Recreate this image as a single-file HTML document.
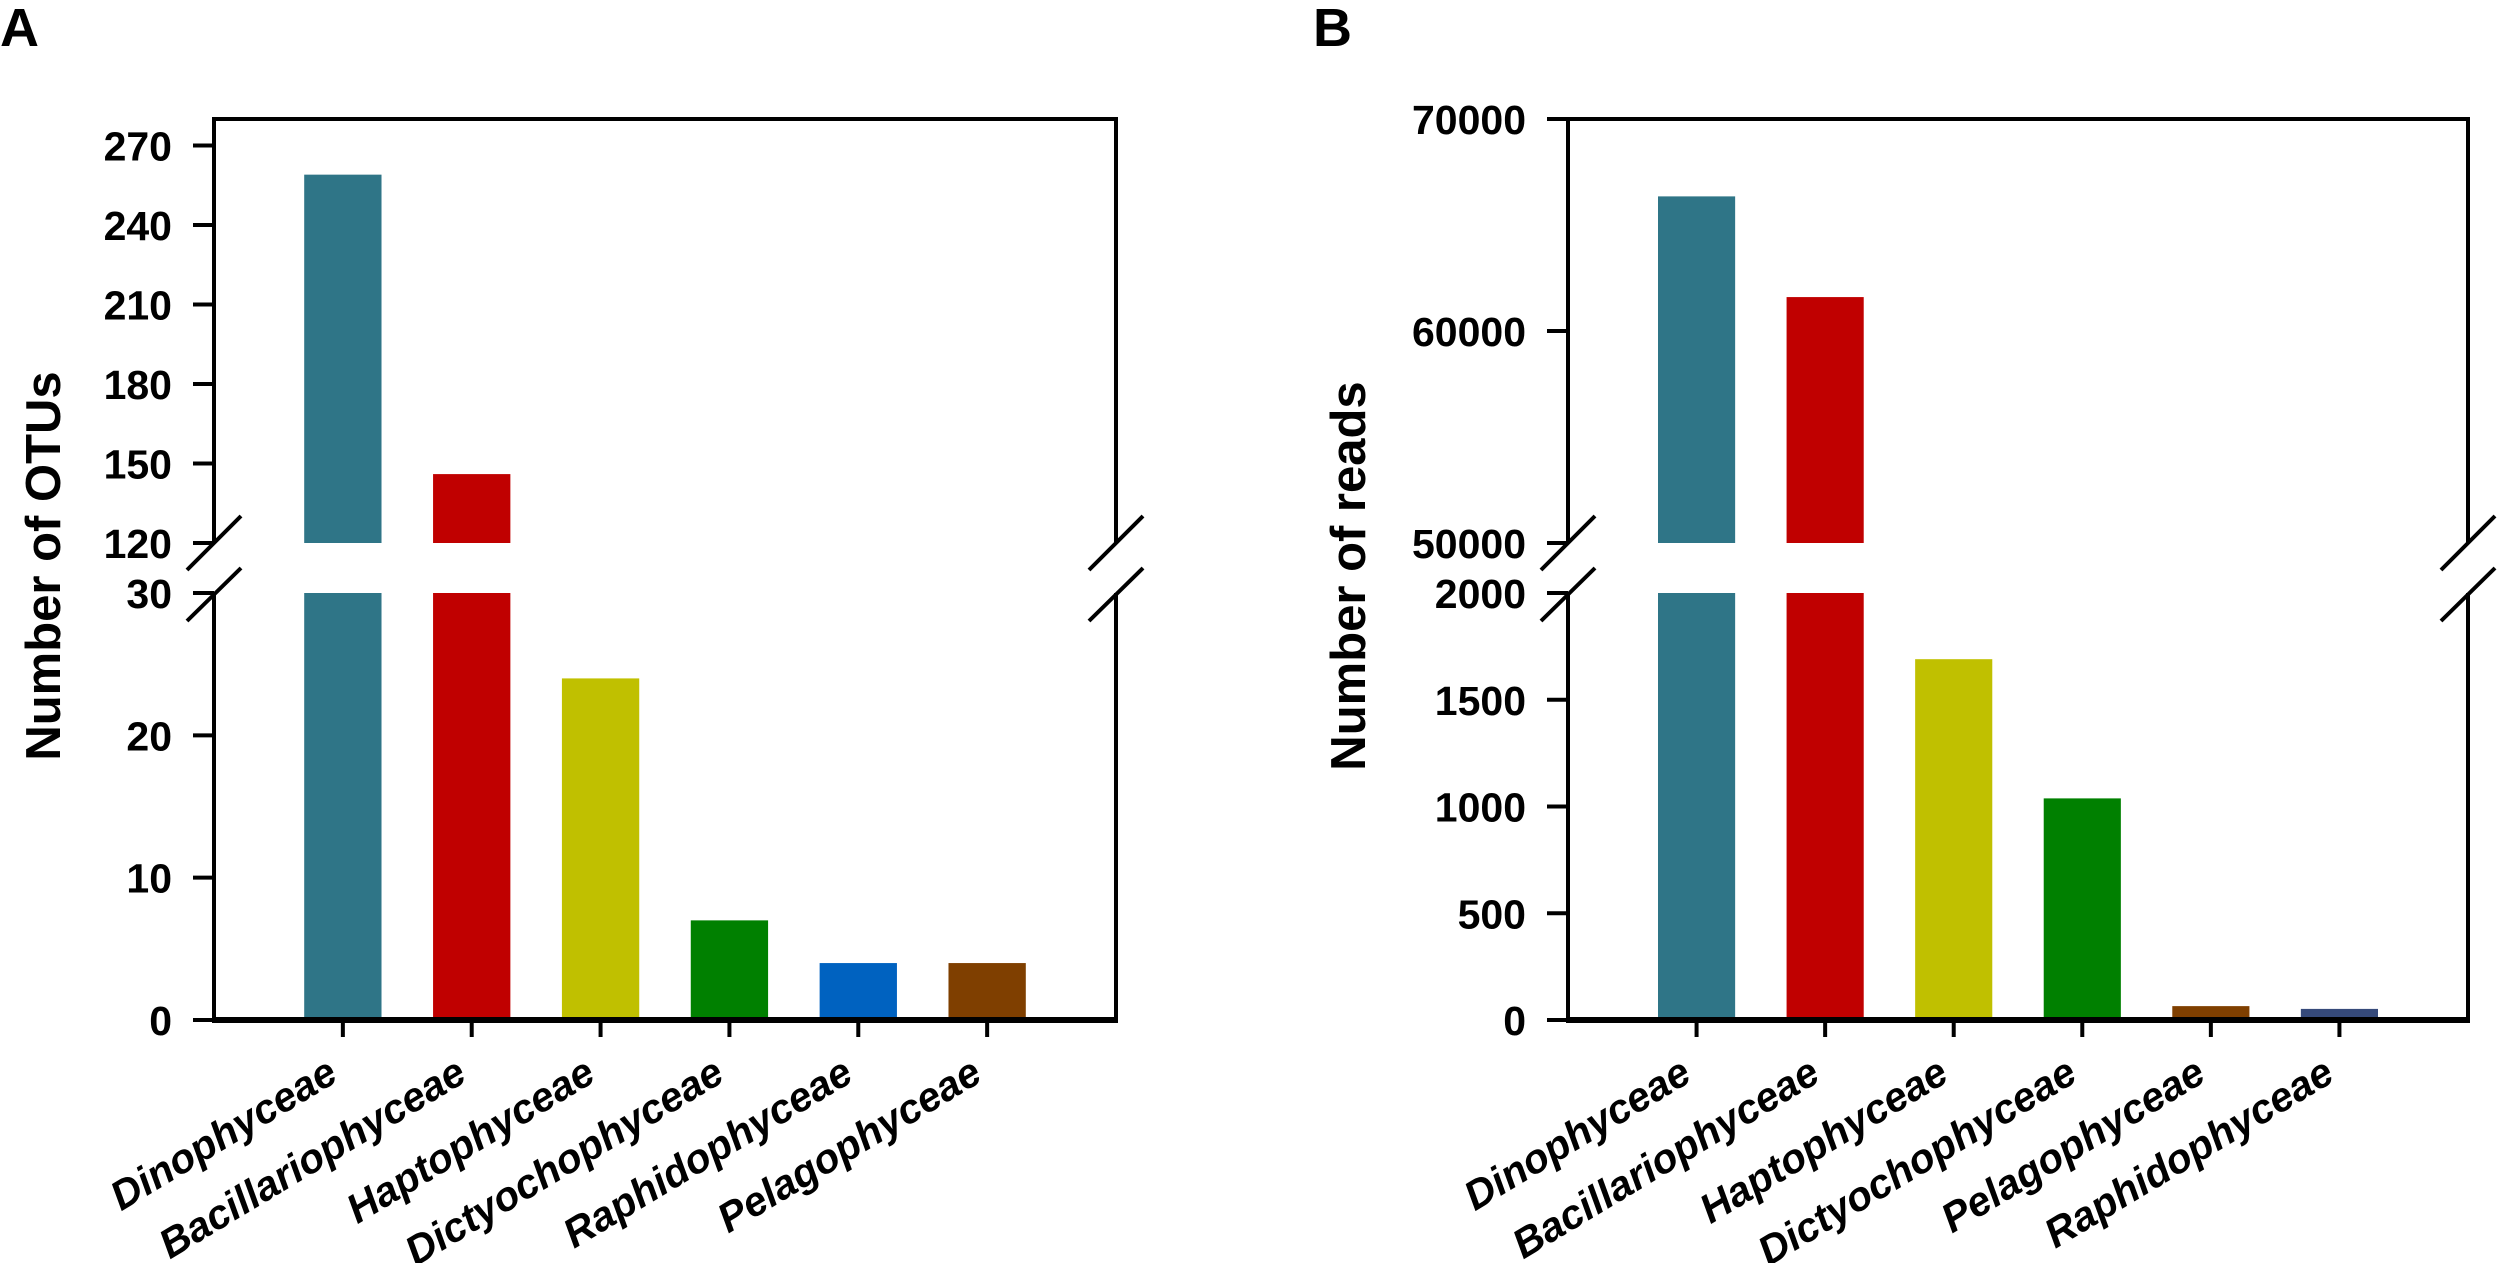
<!DOCTYPE html>
<html><head><meta charset="utf-8"><style>
html,body{margin:0;padding:0;background:#fff;}
svg{display:block;}
text{font-family:"Liberation Sans",Arial,sans-serif;font-weight:bold;fill:#000;}
</style></head><body>
<svg id="fig" width="2500" height="1263" viewBox="0 0 2500 1263" xmlns="http://www.w3.org/2000/svg">
<text x="0" y="46" font-size="54">A</text>
<text x="1313" y="46" font-size="54">B</text>
<text transform="translate(60,566) rotate(-90)" text-anchor="middle" font-size="49">Number of OTUs</text>
<text transform="translate(1365,576) rotate(-90)" text-anchor="middle" font-size="49">Number of reads</text>
<g id="pa"></g>
<g id="pb"></g>
</svg>
<script>
const catsA = ["Dinophyceae","Bacillariophyceae","Haptophyceae","Dictyochophyceae","Raphidophyceae","Pelagophyceae"];
const valsA = [259, 146, 24, 7, 4, 4];
const colorsA = ["#2f7587","#c00000","#c0c000","#008000","#0062c0","#7f3f00"];
const ticksALow = [0, 10, 20, 30];
const ticksAHigh = [120, 150, 180, 210, 240, 270];

const catsB = ["Dinophyceae","Bacillariophyceae","Haptophyceae","Dictyochophyceae","Pelagophyceae","Raphidophyceae"];
const valsB = [66350, 61600, 1690, 1038, 65, 52];
const colorsB = ["#2f7587","#c00000","#c0c000","#008000","#7f3f00","#364a7a"];
const ticksBLow = [0, 500, 1000, 1500, 2000];
const ticksBHigh = [50000, 60000, 70000];

const NS = "http://www.w3.org/2000/svg";
function mk(parent, tag, attrs) {
  const e = document.createElementNS(NS, tag);
  for (const k in attrs) e.setAttribute(k, attrs[k]);
  parent.appendChild(e);
  return e;
}

function drawPanel(g, cats, vals, colors, ticksLow, ticksHigh, cfg) {
  const L = cfg.left, R = cfg.right, top = 119, y0 = 1020;
  const lowTopPx = 593, highBotPx = 543;
  const yLow = v => y0 - (v - cfg.lowMin) / (cfg.lowMax - cfg.lowMin) * (y0 - lowTopPx);
  const yHigh = v => highBotPx - (v - cfg.highMin) / (cfg.highMax - cfg.highMin) * (highBotPx - top);
  const slot = (R - L) / (cats.length + 1);
  const bw = slot * 0.6;
  const xc = i => L + slot * (i + 1);

  cats.forEach((c, i) => {
    const v = vals[i];
    const x = xc(i) - bw / 2;
    const topLow = v > cfg.lowMax ? lowTopPx : yLow(v);
    let r = mk(g, "rect", {x: x, y: topLow, width: bw, height: y0 - topLow, fill: colors[i]});
    
    
    if (v > cfg.highMin) {
      const yt = yHigh(Math.min(v, cfg.highMax));
      let r2 = mk(g, "rect", {x: x, y: yt, width: bw, height: highBotPx - yt, fill: colors[i]});
      
      
    }
    let tk = mk(g, "line", {x1: xc(i), x2: xc(i), y1: y0, y2: 1037, stroke: "#000", "stroke-width": 4});
    
    
    let t = mk(g, "text", {transform: "translate(" + (xc(i) - 3) + ",1080) rotate(-31)", "text-anchor": "end", "font-size": 41, "font-style": "italic"});
    t.textContent = c;
    
    
  });

  const ax = {stroke: "#000", "stroke-width": 4, fill: "none"};
  let a1 = mk(g, "path", Object.assign({d: "M" + L + "," + highBotPx + " V" + top + " H" + R + " V" + highBotPx}, ax));
  
  
  let a2 = mk(g, "path", Object.assign({d: "M" + L + "," + lowTopPx + " V" + y0 + " M" + R + "," + lowTopPx + " V" + y0}, ax));
  
  
  let base = mk(g, "line", {x1: L - 2, x2: R + 2, y1: y0, y2: y0, stroke: "#000", "stroke-width": 6});
  
  

  [L, R].forEach(x => {
    [[570, 516], [621, 568]].forEach(p => {
      let s = mk(g, "line", {x1: x - 27, y1: p[0], x2: x + 27, y2: p[1], stroke: "#000", "stroke-width": 4});
      
      
    });
  });

  const tickLbl = (v, y) => {
    let tl = mk(g, "line", {x1: L - 21, x2: L, y1: y, y2: y, stroke: "#000", "stroke-width": 4});
    
    
    let t = mk(g, "text", {x: L - 42, y: y + 15, "text-anchor": "end", "font-size": 41});
    t.textContent = v;
    
    
  };
  ticksLow.forEach(v => tickLbl(v, yLow(v)));
  ticksHigh.forEach(v => tickLbl(v, yHigh(v)));
}

drawPanel(document.getElementById("pa"), catsA, valsA, colorsA, ticksALow, ticksAHigh,
  {left: 214, right: 1116, lowMin: 0, lowMax: 30, highMin: 120, highMax: 280});
drawPanel(document.getElementById("pb"), catsB, valsB, colorsB, ticksBLow, ticksBHigh,
  {left: 1568, right: 2468, lowMin: 0, lowMax: 2000, highMin: 50000, highMax: 70000});
</script>
</body></html>
